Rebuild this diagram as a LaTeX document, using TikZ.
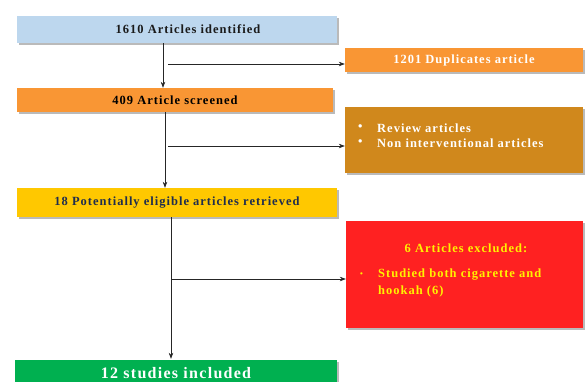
\documentclass[tikz,border=0pt]{standalone}
\usepackage{fontspec}
\setmainfont{Liberation Serif}[LetterSpace=8]
\usetikzlibrary{arrows.meta,shadows}
\definecolor{cblue}{HTML}{BDD7EE}
\definecolor{corange}{HTML}{F99634}
\definecolor{cgold}{HTML}{D0881C}
\definecolor{cyellow}{HTML}{FFC800}
\definecolor{cred}{HTML}{FF2121}
\definecolor{cgreen}{HTML}{00B050}
\definecolor{cnavy}{HTML}{1F2D4E}
\definecolor{ctxt}{HTML}{1A1A1A}
\tikzset{
  box/.style={rectangle, draw=none, inner sep=0pt, anchor=center,
    drop shadow={shadow xshift=2pt, shadow yshift=-2pt, opacity=0.45, fill=black!60}},
  lbl/.style={font=\fontsize{12.5}{15}\selectfont\bfseries, inner sep=0pt},
  arr/.style={-{Stealth[length=6pt,width=4.5pt]}, line width=0.6pt, draw=black!85},
  ln/.style={line width=0.6pt, draw=black!85}
}
\begin{document}
\begin{tikzpicture}[x=1pt,y=-1pt]
\useasboundingbox (0,0) rectangle (586,381);
\fill[white] (0,0) rectangle (586,381);
% boxes
\node[box, fill=cblue, minimum width=320pt, minimum height=27pt, lbl, text=ctxt] (b1) at (177,29.5) {\hspace*{22pt}1610 Articles identified};
\node[box, fill=corange, minimum width=316pt, minimum height=24pt, lbl, text=black] (b2) at (175,100) {409 Article screened};
\node[box, fill=corange, minimum width=238pt, minimum height=24pt, lbl, text=white] (dup) at (464,60) {1201 Duplicates article};
\node[box, fill=cgold, minimum width=238pt, minimum height=66pt] (rev) at (464,140) {};
\node[box, fill=cyellow, minimum width=320pt, minimum height=29pt, lbl, text=cnavy] (b3) at (177,202.5) {18 Potentially eligible articles retrieved};
\node[box, fill=cred, minimum width=237pt, minimum height=107pt] (exc) at (464.5,274.5) {};
\node[box, fill=cgreen, minimum width=322pt, minimum height=26pt, font=\fontsize{16}{18}\selectfont\bfseries, text=white] (b4) at (176,373) {12 studies included};
% texts in review box
\node[lbl, text=white, anchor=west] (r1b) at (358,128) {\textbullet};
\node[lbl, text=white, anchor=west] (r1) at (377,128) {Review articles};
\node[lbl, text=white, anchor=west] (r2b) at (358,143) {\textbullet};
\node[lbl, text=white, anchor=west] (r2) at (377,143) {Non interventional articles};
% texts in excluded box
\node[lbl, text=yellow] (e0) at (466,248) {6 Articles excluded:};
\node[lbl, text=yellow, anchor=west, font=\fontsize{8}{8}\selectfont\bfseries] (e1b) at (360,275) {\textbullet};
\node[lbl, text=yellow, anchor=west] (e1) at (378,275) {Studied both cigarette and};
\node[lbl, text=yellow, anchor=west] (e2) at (378,291) {hookah (6)};
% connectors
\coordinate (v1) at (163,0);
\coordinate (h1) at (168,64);
\coordinate (v2) at (165,0);
\coordinate (h2) at (168,146);
\coordinate (v3) at (171,0);
\coordinate (h3) at (171,279);
\draw[arr] (v1 |- b1.south) -- (v1 |- b2.north);
\draw[arr] (h1) -- (h1 -| dup.west);
\draw[arr] (v2 |- b2.south) -- (v2 |- b3.north);
\draw[arr] (h2) -- (h2 -| rev.west);
\draw[arr] (v3 |- b3.south) -- ([yshift=1pt]v3 |- b4.north);
\draw[arr] (h3) -- (h3 -| exc.west);
\end{tikzpicture}
\end{document}
